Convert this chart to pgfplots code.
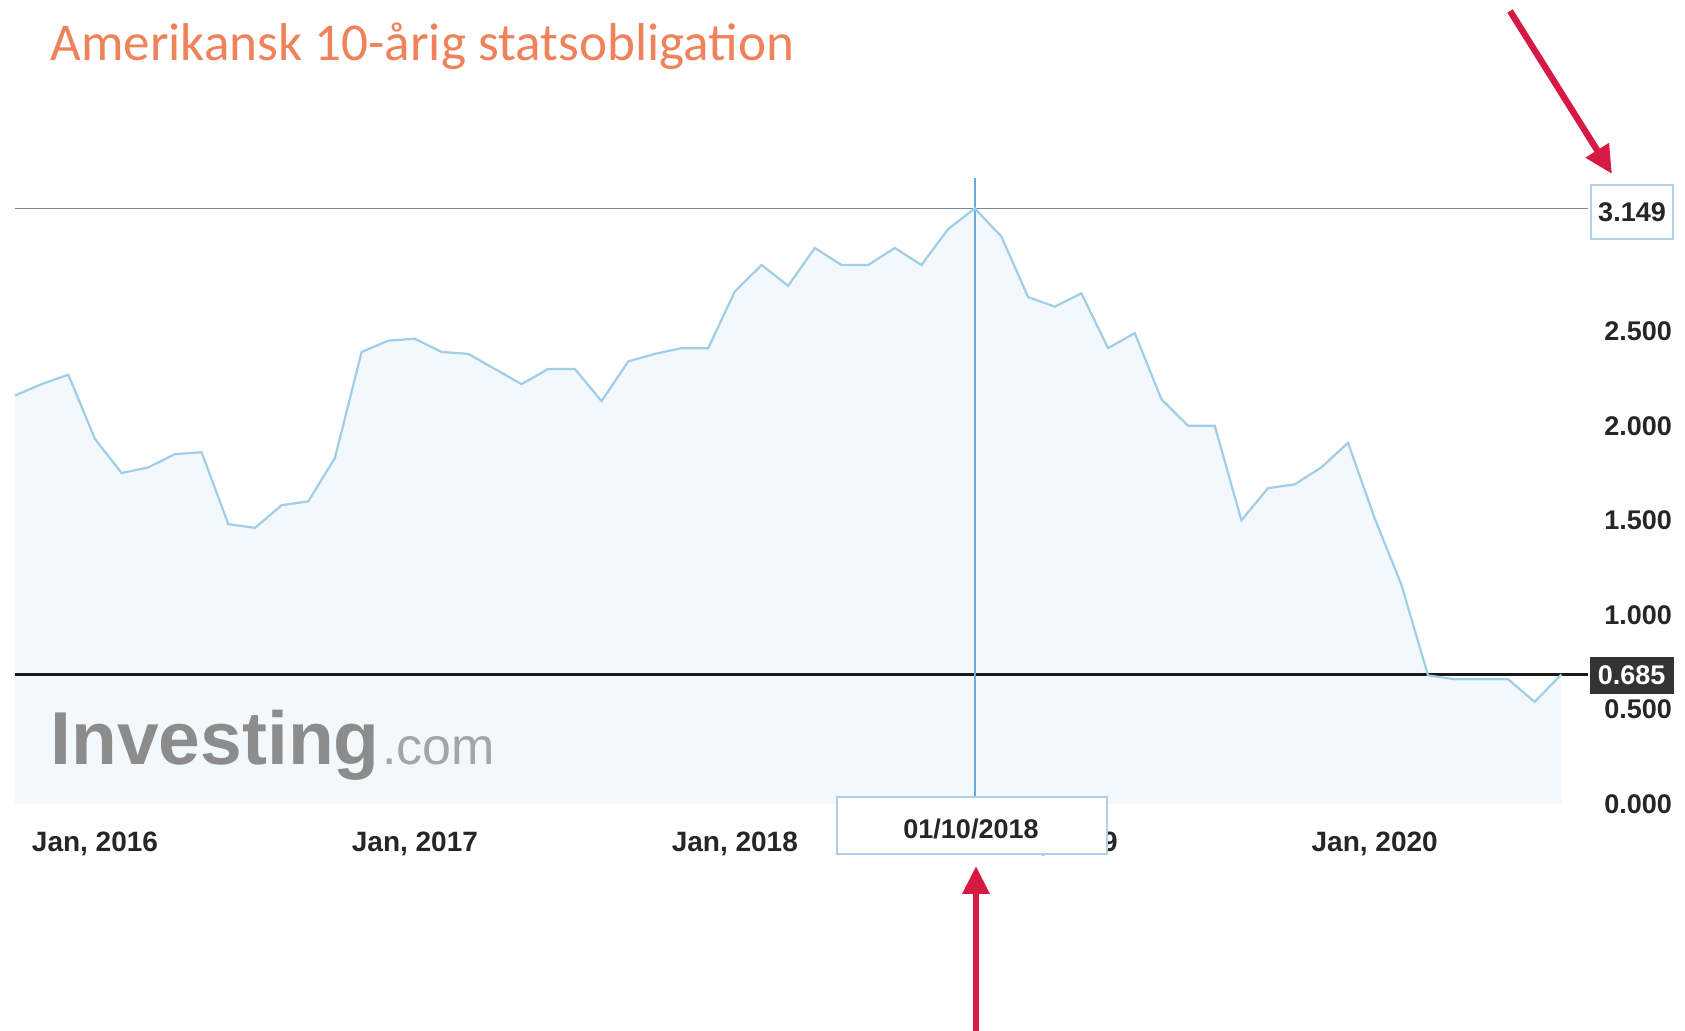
\documentclass[border=0pt]{standalone}
\usepackage{fontspec}
\setmainfont{Liberation Sans}
\newfontfamily\titlefont{Carlito}
\usepackage{pgfplots}
\pgfplotsset{compat=1.18}
\usetikzlibrary{arrows.meta}
\definecolor{titleor}{RGB}{240,130,90}
\definecolor{lineblue}{RGB}{160,205,232}
\definecolor{fillblue}{RGB}{243,248,252}
\definecolor{crossblue}{RGB}{110,170,215}
\definecolor{topgray}{RGB}{125,135,150}
\definecolor{boxblue}{RGB}{175,208,232}
\definecolor{arrowred}{RGB}{215,25,70}
\definecolor{logogray}{RGB}{140,140,140}
\definecolor{logolight}{RGB}{165,165,165}
\pgfplotstableread{
i v
0 2.16
1 2.22
2 2.27
3 1.93
4 1.75
5 1.78
6 1.85
7 1.86
8 1.48
9 1.46
10 1.58
11 1.60
12 1.83
13 2.39
14 2.45
15 2.46
16 2.39
17 2.38
18 2.30
19 2.22
20 2.30
21 2.30
22 2.13
23 2.34
24 2.38
25 2.41
26 2.41
27 2.71
28 2.85
29 2.74
30 2.94
31 2.85
32 2.85
33 2.94
34 2.85
35 3.04
36 3.149
37 3.00
38 2.68
39 2.63
40 2.70
41 2.41
42 2.49
43 2.14
44 2.00
45 2.00
46 1.50
47 1.67
48 1.69
49 1.78
50 1.91
51 1.51
52 1.16
53 0.68
54 0.66
55 0.66
56 0.66
57 0.54
58 0.685
}\yields
\begin{document}
\begin{tikzpicture}
\useasboundingbox (0,0) rectangle (842.5pt,515.5pt);
\node[anchor=base west, inner sep=0pt, text=titleor, font=\titlefont\fontsize{26.6}{32}\selectfont] at (25pt,485pt) {Amerikansk 10-årig statsobligation};
\begin{axis}[
  at={(7.5pt,113.5pt)}, anchor=south west, scale only axis,
  width=786.5pt, height=313pt,
  xmin=0, xmax=59, ymin=0, ymax=3.31,
  axis line style={draw=none}, major tick length=0pt,
  clip=false,
  ytick={0,0.5,1,1.5,2,2.5},
  yticklabels={0.000,0.500,1.000,1.500,2.000,2.500},
  yticklabel pos=right,
  yticklabel style={anchor=west, inner sep=0pt, xshift=8pt, font=\fontsize{13.5}{16}\selectfont\bfseries, text=black!85},
  xtick={3,15,27,39,51},
  xticklabels={{Jan, 2016},{Jan, 2017},{Jan, 2018},{Jan, 2019},{Jan, 2020}},
  xticklabel style={anchor=north, inner sep=0pt, yshift=-14pt, font=\fontsize{14}{16}\selectfont\bfseries, text=black!85},
  /pgf/number format/assume math mode=true,
]
\addplot[fill=fillblue, draw=none] table[x=i,y=v]{\yields} \closedcycle;
\addplot[topgray, line width=0.8pt] coordinates {(0,3.149) (59,3.149)};
\addplot[black!90, line width=1.3pt] coordinates {(0,0.685) (59,0.685)};
\addplot[crossblue, line width=0.7pt] coordinates {(36,0.03) (36,3.31)};
\addplot[lineblue, line width=1.1pt] table[x=i,y=v]{\yields};
\end{axis}
% Investing.com watermark
\node[anchor=base west, inner sep=0pt, text=logogray, font=\fontsize{37.5}{40}\selectfont\bfseries] (inv) at (25pt,133pt) {Investing};
\node[anchor=base west, inner sep=0pt, text=logolight, font=\fontsize{26}{28}\selectfont] at ([xshift=1pt]inv.base east) {.com};
% value boxes
\filldraw[draw=boxblue, fill=white, line width=0.8pt] (795.5pt,396pt) rectangle (836.5pt,423pt);
\node[font=\fontsize{13.5}{16}\selectfont\bfseries, text=black!85] at (816pt,409.5pt) {3.149};
\filldraw[draw=black!80, fill=black!80] (795pt,169pt) rectangle (836.5pt,187pt);
\node[font=\fontsize{13.5}{16}\selectfont\bfseries, text=white] at (815.8pt,178pt) {0.685};
\filldraw[draw=boxblue, fill=white, line width=0.8pt] (418.5pt,88.5pt) rectangle (553.5pt,117pt);
\node[font=\fontsize{13.5}{16}\selectfont\bfseries, text=black!85] at (485.5pt,101pt) {01/10/2018};
% arrows
\draw[arrowred, line width=3.2pt, -{Triangle[length=14pt,width=13pt]}] (755pt,510pt) -- (806pt,428.5pt);
\draw[arrowred, line width=3.2pt, -{Triangle[length=14pt,width=13pt]}] (488pt,0pt) -- (488pt,82.5pt);
\end{tikzpicture}
\end{document}
